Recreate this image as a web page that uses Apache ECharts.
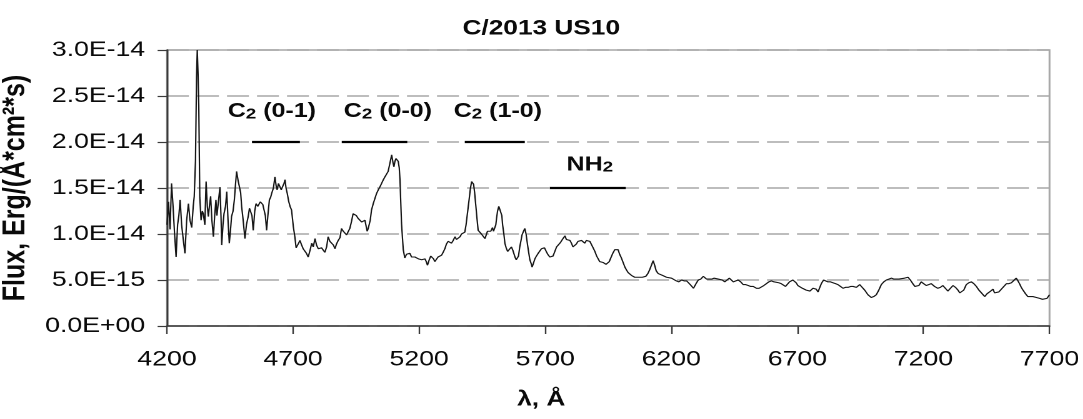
<!DOCTYPE html>
<html><head><meta charset="utf-8">
<script src="https://cdn.jsdelivr.net/npm/echarts@6/dist/echarts.min.js"></script>
<style>
html,body{margin:0;padding:0;background:#fff;overflow:hidden;}
#wrap{width:1083px;height:419px;overflow:hidden;}
#chart{width:866.4px;height:419px;transform:scaleX(1.25);transform-origin:0 0;}
</style></head><body><div id="wrap"><div id="chart"></div></div>
<script>
// Spectrum of comet C/2013 US10 (flux in units of 1e-15 erg/(Å*cm²*s))
const FLUX_UNIT = 1e-15;
const wavelength = [
4200,4206,4212,4218,4224,4230,4236,4242,4247,4252,4258,4264,4271,4278,4285,4291,4298,4304,4308,4313,
4317,4320,4323,4326,4330,4335,4340,4344,4350,4355,4360,4364,4368,4373,4378,4384,4389,4394,4398,4403,
4410,4414,4417,4422,4426,4432,4437,4442,4447,4452,4456,4462,4467,4472,4476,4482,4487,4492,4496,4502,
4509,4515,4522,4527,4532,4537,4542,4548,4553,4560,4566,4570,4575,4580,4585,4590,4595,4600,4606,4611,
4615,4622,4628,4633,4637,4642,4648,4653,4659,4664,4668,4672,4677,4683,4688,4694,4701,4707,4712,4717,
4722,4727,4734,4740,4747,4753,4760,4767,4774,4780,4787,4793,4800,4806,4813,4820,4826,4833,4839,4846,
4853,4860,4866,4872,4879,4886,4892,4899,4906,4912,4919,4925,4932,4938,4945,4951,4958,4965,4972,4978,
4985,4990,4994,4998,5002,5006,5011,5018,5025,5031,5038,5044,5051,5058,5064,5070,5077,5084,5091,5096,
5100,5104,5108,5112,5117,5121,5124,5127,5130,5134,5137,5143,5150,5157,5163,5170,5177,5183,5190,5197,
5204,5210,5217,5223,5228,5233,5240,5246,5252,5257,5262,5268,5275,5282,5289,5295,5302,5308,5315,5322,
5328,5335,5342,5348,5355,5362,5368,5375,5381,5386,5390,5394,5398,5403,5408,5412,5416,5420,5424,5429,
5434,5440,5447,5454,5461,5466,5471,5477,5484,5491,5495,5500,5504,5507,5511,5516,5520,5524,5528,5531,
5536,5540,5545,5551,5558,5566,5572,5580,5585,5589,5594,5599,5604,5608,5614,5619,5624,5630,5635,5639,
5644,5648,5653,5659,5665,5672,5679,5685,5690,5697,5704,5710,5718,5725,5731,5738,5745,5752,5761,5768,
5778,5784,5791,5798,5804,5810,5817,5823,5830,5837,5844,5850,5857,5863,5870,5877,5883,5890,5897,5904,
5910,5916,5923,5930,5936,5941,5947,5954,5960,5968,5976,5983,5989,5995,6002,6009,6016,6022,6029,6036,
6042,6049,6055,6065,6075,6085,6099,6107,6114,6121,6128,6134,6140,6148,6156,6165,6173,6181,6190,6201,
6210,6220,6230,6241,6251,6261,6275,6288,6298,6307,6317,6327,6334,6340,6350,6360,6370,6379,6386,6393,
6402,6412,6421,6430,6438,6446,6455,6465,6475,6485,6495,6505,6515,6525,6538,6548,6557,6567,6577,6587,
6597,6607,6616,6626,6636,6645,6653,6662,6669,6676,6682,6689,6695,6702,6709,6720,6729,6735,6742,6750,
6755,6762,6769,6775,6782,6789,6795,6804,6812,6821,6831,6841,6851,6861,6871,6881,6891,6901,6911,6921,
6928,6934,6941,6947,6957,6967,6980,6993,7003,7013,7023,7033,7043,7053,7063,7073,7083,7093,7103,7112,
7125,7139,7148,7158,7166,7174,7182,7191,7201,7211,7221,7231,7244,7257,7267,7277,7287,7297,7307,7317,
7327,7337,7344,7350,7360,7370,7380,7390,7400,7410,7420,7430,7443,7452,7462,7469,7476,7482,7489,7499,
7509,7519,7529,7539,7549,7558,7568,7575,7581,7588,7595,7605,7614,7624,7634,7648,7661,7672,7680,7690,
7700
];
const flux = [
11.0,13.5,10.5,15.5,13.0,10.0,7.5,11.0,12.0,13.7,11.0,9.5,7.9,11.5,13.3,11.5,10.7,13.0,14.1,18.0,
27.0,30.0,27.5,24.0,14.0,11.5,12.5,12.2,11.0,15.7,13.0,11.9,13.0,14.1,11.5,9.7,12.0,13.7,12.0,11.9,
15.1,12.0,8.8,11.0,12.2,13.0,14.6,11.5,9.0,10.5,11.9,12.5,13.7,15.5,16.8,15.8,15.9,14.5,13.0,11.5,
9.5,11.0,11.9,12.8,13.0,12.0,10.4,12.5,13.3,13.0,13.0,13.5,13.7,13.2,13.0,12.0,10.4,12.0,13.7,14.0,
14.4,15.0,16.2,15.2,14.8,15.5,15.7,14.8,14.6,15.5,15.9,15.0,14.4,13.5,13.0,12.6,10.8,9.7,8.5,8.4,
9.0,9.3,8.8,8.4,8.3,7.9,7.5,8.2,9.0,8.6,9.5,8.8,8.4,8.6,8.5,8.6,8.0,8.6,9.7,9.2,
9.2,8.8,8.4,8.9,9.3,9.6,10.6,10.3,10.4,9.9,9.7,10.6,11.4,12.2,12.4,12.0,11.7,11.5,11.3,11.4,
11.5,10.8,10.3,10.6,10.8,11.5,12.6,13.3,13.9,14.4,14.8,15.1,15.5,15.9,16.2,16.4,16.8,17.7,18.6,17.8,
17.3,17.9,18.2,18.0,17.9,17.2,15.9,13.5,11.2,9.5,8.3,7.4,7.8,7.6,7.9,7.5,7.6,7.5,7.4,7.3,
7.1,7.2,7.4,7.3,7.0,6.6,7.2,7.6,7.7,7.3,7.0,7.2,7.5,7.4,7.7,8.0,8.4,8.9,9.2,9.4,
9.0,9.3,9.7,9.4,9.5,9.7,10.0,9.9,10.2,11.0,11.9,12.8,13.7,14.9,15.7,15.5,15.4,14.5,13.3,11.8,
10.4,10.2,10.0,10.1,9.5,9.9,10.3,10.2,10.3,10.7,10.3,10.2,11.0,11.7,12.5,13.0,13.0,12.8,12.0,11.0,
10.0,9.0,8.5,8.1,8.3,8.6,8.2,7.5,7.2,7.0,7.6,8.6,9.3,9.9,10.3,10.6,10.0,8.8,7.9,7.2,
6.8,6.4,6.8,7.3,7.6,7.9,8.1,8.4,8.6,8.5,8.1,7.8,7.5,7.5,7.6,8.1,8.6,8.8,9.1,9.4,
9.8,9.4,9.2,9.3,9.0,8.6,8.4,8.9,9.2,9.0,9.3,9.2,9.0,9.3,9.5,9.2,9.0,8.5,8.1,7.6,
7.3,7.0,6.8,6.9,6.9,6.7,6.6,7.0,7.4,7.9,8.3,8.4,8.3,7.8,7.4,6.9,6.4,6.1,5.8,5.6,
5.5,5.4,5.3,5.3,5.3,5.3,5.4,5.7,6.1,6.6,7.1,6.6,6.0,5.7,5.6,5.5,5.4,5.3,5.2,5.2,
5.0,4.9,4.8,5.0,4.9,4.9,4.5,4.1,4.6,5.0,5.1,5.4,5.2,5.1,5.1,5.1,5.2,5.1,5.1,5.2,
5.0,4.8,5.0,5.2,5.0,4.8,4.9,5.0,4.8,4.5,4.5,4.4,4.3,4.3,4.1,4.1,4.2,4.4,4.6,4.8,
4.9,4.8,4.7,4.7,4.6,4.5,4.3,4.5,4.8,4.9,5.0,4.8,4.7,4.4,4.2,4.1,4.0,3.9,3.7,3.8,
3.9,4.1,4.2,4.0,3.7,4.2,4.6,5.0,4.9,4.8,4.8,4.7,4.6,4.5,4.3,4.1,4.2,4.2,4.3,4.3,
4.2,4.2,4.4,4.5,4.2,3.9,3.4,3.1,3.2,3.4,3.9,4.5,4.8,5.0,5.1,5.2,5.1,5.1,5.1,5.1,
5.2,5.3,5.0,4.6,4.3,4.1,4.4,4.8,4.6,4.4,4.5,4.6,4.3,4.1,4.2,4.4,4.1,3.8,4.1,4.4,
4.2,3.9,3.6,3.4,3.9,4.5,4.7,4.8,4.6,4.3,3.9,3.6,3.2,3.5,3.7,3.9,4.0,3.6,3.4,3.7,
4.0,4.3,4.6,4.6,4.7,4.9,5.2,4.9,4.6,4.2,3.9,3.5,3.2,3.2,3.2,3.1,3.0,2.9,2.8,3.0,
3.4
];
// Molecular band annotations
const bandLabels = ['C{sub|2} (0-1)', 'C{sub|2} (0-0)', 'C{sub|2} (1-0)', 'NH{sub|2}'];
const bandStart  = [4537, 4893, 5381, 5718];
const bandEnd    = [4727, 5153, 5619, 6019];
const bandLevel  = [20, 20, 20, 15];
const labelX     = [4616, 5076, 5512, 5877];
const labelY     = [23.3, 23.3, 23.3, 17.5];
// Axis ticks
const xTicks = [4200, 4700, 5200, 5700, 6200, 6700, 7200, 7700];

const SX = 1.25; // horizontal stretch of the reference picture
const FONT = '"Liberation Sans", Arial, sans-serif';

function fmtY(v) {
  if (v === 0) return '0.0E+00';
  const real = v * FLUX_UNIT;
  const e = Math.floor(Math.log10(real) + 1e-9);
  const m = real / Math.pow(10, e);
  const es = Math.abs(e) < 10 ? '0' + Math.abs(e) : String(Math.abs(e));
  return m.toFixed(1) + 'E' + (e < 0 ? '-' : '+') + es;
}

const chart = echarts.init(document.getElementById('chart'), null, {devicePixelRatio: 2});
const axisColor = '#3a3a3a';
const gridColor = '#a8a8a8';
const textColor = '#0a0a0a';

chart.setOption({
  animation: false,
  backgroundColor: '#fff',
  title: [
    {
      text: 'C/2013 US10', left: 'center', top: 13,
      textStyle: {fontFamily: FONT, fontSize: 21, fontWeight: 'bold', color: textColor}
    },
    { // x-axis title, centred on the whole picture as in the reference
      text: 'λ, Å', left: 'center', top: 389, padding: 0,
      textStyle: {fontFamily: FONT, fontSize: 21, fontWeight: 'bold', color: textColor}
    }
  ],
  grid: {
    left: 167 / SX, right: (1083 - 1050) / SX, top: 50, bottom: 93,
    show: true, borderColor: gridColor, borderWidth: 1.5,
    containLabel: false, outerBoundsMode: 'none'
  },
  xAxis: {
    type: 'value', min: 4200, max: 7700, interval: 500,
    axisLine: {show: true, lineStyle: {color: axisColor, width: 1.5}},
    axisTick: {show: true, length: 8, lineStyle: {color: axisColor, width: 1.2}, customValues: xTicks},
    axisLabel: {fontFamily: FONT, fontSize: 21.3, color: textColor, margin: 23, customValues: xTicks,
                formatter: v => String(v)},
    splitLine: {show: false}
  },
  yAxis: {
    type: 'value', min: 0, max: 30, interval: 5,
    name: 'Flux, Erg/(Å*cm²*s)', nameLocation: 'middle', nameGap: 92,
    nameTextStyle: {fontFamily: FONT, fontSize: 25, fontWeight: 'bold', color: textColor},
    axisLine: {show: true, lineStyle: {color: axisColor, width: 1.5}},
    axisTick: {show: true, length: 7.5, lineStyle: {color: axisColor, width: 1.2}},
    axisLabel: {fontFamily: FONT, fontSize: 21.3, color: textColor, margin: 17.5, formatter: fmtY},
    splitLine: {show: true, lineStyle: {color: gridColor, width: 1.6, type: [17.5, 6.5]}}
  },
  series: [
    {
      type: 'line',
      data: wavelength.map((w, i) => [w, flux[i]]),
      showSymbol: false, symbol: 'none', smooth: false,
      lineStyle: {color: '#151515', width: 1.1},
      z: 3,
      markLine: {
        silent: true, symbol: 'none', label: {show: false},
        lineStyle: {color: '#000', width: 2.2, type: 'solid'},
        data: bandStart.map((s, i) => [{coord: [s, bandLevel[i]]}, {coord: [bandEnd[i], bandLevel[i]]}])
      }
    },
    {
      type: 'scatter', symbolSize: 0, silent: true, z: 4,
      itemStyle: {opacity: 1, color: '#000'},
      data: labelX.map((x, i) => ({value: [x, labelY[i]], name: bandLabels[i]})),
      label: {
        show: true, position: 'inside', formatter: p => p.name, opacity: 1,
        fontFamily: FONT, fontSize: 20, fontWeight: 'bold', color: textColor,
        textBorderWidth: 0, textBorderColor: 'transparent',
        rich: {sub: {fontFamily: FONT, fontSize: 15, fontWeight: 'bold', color: textColor,
                     textBorderWidth: 0, textBorderColor: 'transparent',
                     verticalAlign: 'bottom', padding: [5, 0, 0, 0]}}
      }
    }
  ]
});
</script></body></html>
